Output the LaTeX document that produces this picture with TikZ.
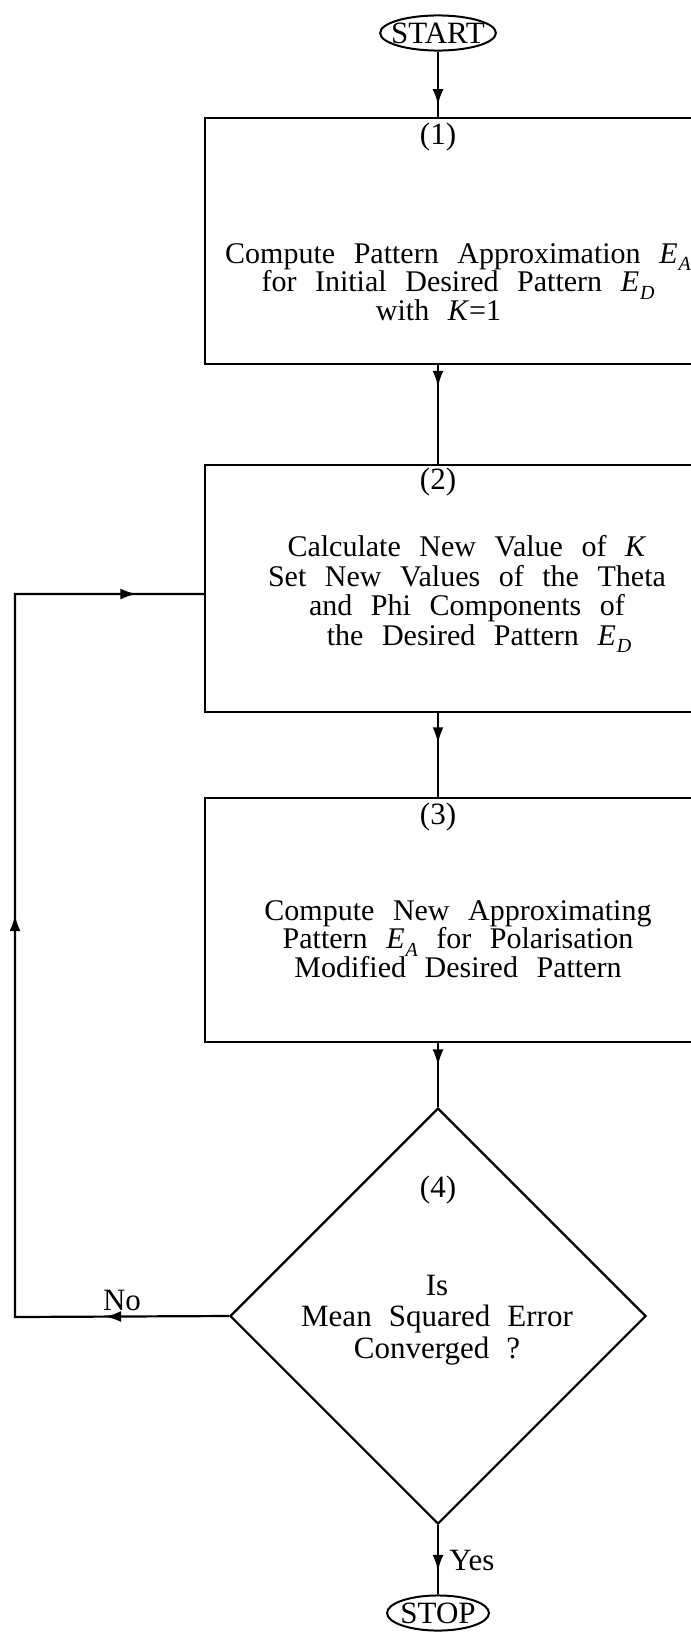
\documentclass[tikz,border=0pt]{standalone}
\usepackage{fontspec}
\setmainfont{Liberation Serif}
\usetikzlibrary{arrows.meta,shapes.geometric,decorations.markings}
\newcommand{\flowfont}{\fontsize{15pt}{14.25pt}\selectfont\lineskiplimit=-20pt\spaceskip=0.62em plus 0.2em\relax}
\newcommand{\widefont}{\fontsize{15pt}{14.75pt}\selectfont\lineskiplimit=-20pt\spaceskip=0.62em plus 0.2em\relax}
\newcommand{\askfont}{\fontsize{15.5pt}{15.75pt}\selectfont\lineskiplimit=-20pt\spaceskip=0.55em plus 0.2em\relax}
\newcommand{\Esub}[1]{\textit{E}\kern0.03em\raisebox{-0.25em}{\fontsize{10pt}{10pt}\selectfont\textit{#1}}}
\tikzset{txt/.style={align=center,inner sep=0pt,font=\flowfont},
  wide/.style={txt,font=\widefont},
  ask/.style={txt,font=\askfont},
  box/.style={draw,line width=1.1pt,minimum width=267.5pt,inner sep=0pt},
  decision/.style={draw,diamond,line width=1.1pt,minimum width=208pt,minimum height=208pt,inner sep=0pt},
  terminal/.style={draw,ellipse,line width=1pt,inner ysep=1pt,inner xsep=#1,font=\askfont},
  arr/.style={line width=1.1pt},
  tipat/.style={decoration={markings,mark=at position #1 with {\arrow{Latex[length=8pt,width=5.5pt]}}},postaction={decorate}},
  loopback/.style={decoration={markings,
      mark=at position 0.11 with {\arrow{Latex[length=8pt,width=5.5pt]}},
      mark=at position 0.547 with {\arrow{Latex[length=8pt,width=5.5pt]}},
      mark=at position 0.94 with {\arrow{Latex[length=8pt,width=5.5pt]}}},postaction={decorate}}}

\begin{document}
\begin{tikzpicture}[x=0.5pt,y=-0.5pt]
\path[use as bounding box,clip] (0,0) rectangle (691,1634);
% terminals
\node[terminal=-3pt] (start) at (438,33) {START};
\node[terminal=-0.8pt] (stop) at (438,1613) {STOP};
% boxes, right side runs off the page
\node[box,minimum height=123pt] (b1) at (472.5,241) {};
\node[box,minimum height=123.5pt] (b2) at (472.5,588.5) {};
\node[box,minimum height=122pt] (b3) at (472.5,920) {};
\node[decision] (d4) at (438,1316) {};
% step numbers
\node[ask] (n1) at (438,137) {(1)};
\node[ask] (n2) at (438,482) {(2)};
\node[ask] (n3) at (438,817) {(3)};
\node[ask] (n4) at (438,1190) {(4)};
% step texts
\node[txt] (t1) at (458,282) {Compute Pattern Approximation \Esub{A}\\
  for Initial Desired Pattern \Esub{D}\\ with \textit{K}=1\hspace*{1.3em}};
\node[wide] (t2) at (467,594) {Calculate New Value of \textit{K}\\
  Set New Values of the Theta\\ and Phi Components of\hspace*{1em}\\
  \hspace*{0.8em}the Desired Pattern \Esub{D}};
\node[txt] (t3) at (458,939) {Compute New Approximating\\
  Pattern \Esub{A} for Polarisation\\ Modified Desired Pattern};
\node[ask] (t4) at (437,1320) {Is\\ Mean Squared Error\\ Converged ?};
% connectors
\draw[arr,tipat=0.82] (start) -- (start |- b1.north);
\draw[arr,tipat=0.22] (b1.south -| start) -- (b2.north -| start);
\draw[arr,tipat=0.36] (b2.south -| start) -- (b3.north -| start);
\draw[arr,tipat=0.35] (b3.south -| d4) -- (d4.north);
\draw[arr,tipat=0.66] (d4.south) -- (stop);
\coordinate (lp1) at (15,1317);
\coordinate (lp2) at (15,594);
\draw[arr,loopback] (d4.west) -- (lp1) -- (lp2) -- (lp2 -| b2.west);
\node[ask] (no) at (122,1300) {No};
\node[ask,anchor=west] (yes) at (449,1560) {Yes};
\end{tikzpicture}
\end{document}
